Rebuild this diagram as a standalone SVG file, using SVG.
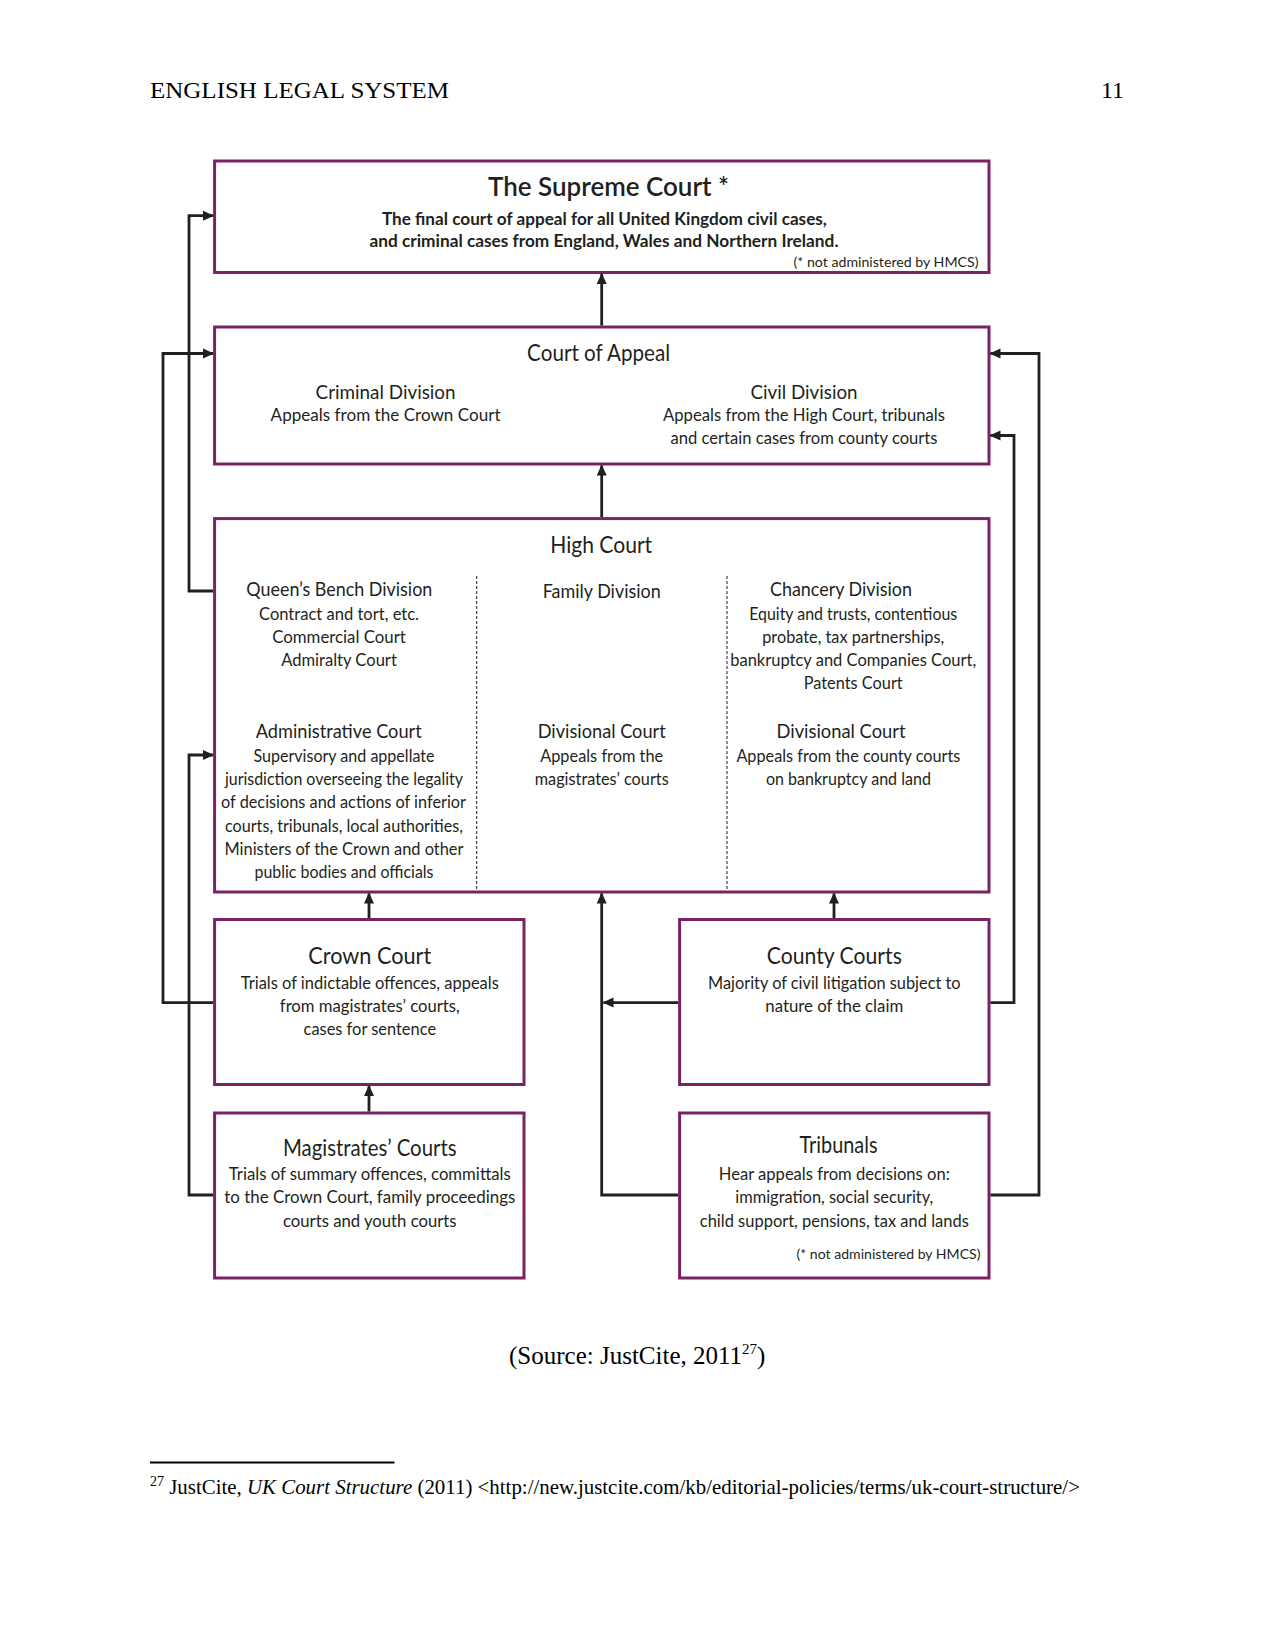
<svg xmlns="http://www.w3.org/2000/svg" width="1275" height="1650" viewBox="0 0 1275 1650">
<defs>
<marker id="ah" markerWidth="11" markerHeight="11" refX="10" refY="5.5" orient="auto" markerUnits="userSpaceOnUse">
<path d="M0,0.5 L11,5.5 L0,10.5 Z" fill="#231f20"/>
</marker>
<style>
.box{fill:#fff;stroke:#7b2264;stroke-width:3}
.div{stroke:#5e4556;stroke-width:1.3;stroke-dasharray:3 2;fill:none}
.con{fill:none;stroke:#231f20;stroke-width:2.8;marker-end:url(#ah)}
.t{font-family:Lato,"Open Sans",sans-serif;fill:#231f20;text-anchor:middle}
.h{font-size:22.5px}
.m{font-size:19px}
.s{font-size:17px}
.b{font-weight:bold;font-size:16.5px}
.n{font-size:13px;text-anchor:end}
.serif{font-family:"Liberation Serif",serif;fill:#000}
</style>
</defs>
<rect width="1275" height="1650" fill="#fff"/>
<text class="serif" x="150" y="98" font-size="24" textLength="299" lengthAdjust="spacingAndGlyphs">ENGLISH LEGAL SYSTEM</text>
<text class="serif" x="1124" y="98" font-size="24" text-anchor="end">11</text>

<g id="supreme-court">
<rect class="box" x="214.6" y="161" width="774.4" height="111.5"/>
<text class="t" x="608.5" y="195.5" font-size="26" font-weight="600" textLength="241" lengthAdjust="spacingAndGlyphs">The Supreme Court *</text>
<text class="t b" x="604.4" y="225" textLength="445" lengthAdjust="spacingAndGlyphs">The final court of appeal for all United Kingdom civil cases,</text>
<text class="t b" x="604" y="247" textLength="469" lengthAdjust="spacingAndGlyphs">and criminal cases from England, Wales and Northern Ireland.</text>
<text class="t n" x="978.5" y="267" textLength="185" lengthAdjust="spacingAndGlyphs">(* not administered by HMCS)</text>
</g>

<g id="court-of-appeal">
<rect class="box" x="214.6" y="327" width="774.4" height="137"/>
<text class="t h" x="598.6" y="361" textLength="143" lengthAdjust="spacingAndGlyphs">Court of Appeal</text>
<text class="t m" x="385.6" y="398.5" textLength="140" lengthAdjust="spacingAndGlyphs">Criminal Division</text>
<text class="t s" x="385.6" y="420.5" textLength="230" lengthAdjust="spacingAndGlyphs">Appeals from the Crown Court</text>
<text class="t m" x="804" y="398.5" textLength="107" lengthAdjust="spacingAndGlyphs">Civil Division</text>
<text class="t s" x="804" y="420.5" textLength="282" lengthAdjust="spacingAndGlyphs">Appeals from the High Court, tribunals</text>
<text class="t s" x="804" y="444" textLength="267" lengthAdjust="spacingAndGlyphs">and certain cases from county courts</text>
</g>

<g id="high-court">
<rect class="box" x="214.6" y="518.6" width="774.4" height="373.4"/>
<line class="div" x1="476.6" y1="576" x2="476.6" y2="892"/>
<line class="div" x1="727" y1="576" x2="727" y2="892"/>
<text class="t h" x="601.2" y="553.4" textLength="102" lengthAdjust="spacingAndGlyphs">High Court</text>
<text class="t m" x="339.3" y="595.5" textLength="186" lengthAdjust="spacingAndGlyphs">Queen’s Bench Division</text>
<text class="t s" x="339" y="619.5" textLength="160" lengthAdjust="spacingAndGlyphs">Contract and tort, etc.</text>
<text class="t s" x="339" y="642.7" textLength="133.6" lengthAdjust="spacingAndGlyphs">Commercial Court</text>
<text class="t s" x="339" y="665.9" textLength="115.7" lengthAdjust="spacingAndGlyphs">Admiralty Court</text>
<text class="t m" x="601.7" y="597.5" textLength="118" lengthAdjust="spacingAndGlyphs">Family Division</text>
<text class="t m" x="841" y="595.5" textLength="142" lengthAdjust="spacingAndGlyphs">Chancery Division</text>
<text class="t s" x="853.2" y="619.5" textLength="208" lengthAdjust="spacingAndGlyphs">Equity and trusts, contentious</text>
<text class="t s" x="853.2" y="642.7" textLength="182" lengthAdjust="spacingAndGlyphs">probate, tax partnerships,</text>
<text class="t s" x="853.2" y="665.9" textLength="246" lengthAdjust="spacingAndGlyphs">bankruptcy and Companies Court,</text>
<text class="t s" x="853.2" y="689.1" textLength="99" lengthAdjust="spacingAndGlyphs">Patents Court</text>
<text class="t m" x="338.7" y="737.5" textLength="166" lengthAdjust="spacingAndGlyphs">Administrative Court</text>
<text class="t s" x="344" y="761.6" textLength="181" lengthAdjust="spacingAndGlyphs">Supervisory and appellate</text>
<text class="t s" x="344" y="784.8" textLength="238" lengthAdjust="spacingAndGlyphs">jurisdiction overseeing the legality</text>
<text class="t s" x="343.5" y="808" textLength="245" lengthAdjust="spacingAndGlyphs">of decisions and actions of inferior</text>
<text class="t s" x="344" y="831.6" textLength="238" lengthAdjust="spacingAndGlyphs">courts, tribunals, local authorities,</text>
<text class="t s" x="344" y="855" textLength="239" lengthAdjust="spacingAndGlyphs">Ministers of the Crown and other</text>
<text class="t s" x="344" y="878.4" textLength="179" lengthAdjust="spacingAndGlyphs">public bodies and officials</text>
<text class="t m" x="601.7" y="737.5" textLength="128" lengthAdjust="spacingAndGlyphs">Divisional Court</text>
<text class="t s" x="601.7" y="761.6" textLength="123" lengthAdjust="spacingAndGlyphs">Appeals from the</text>
<text class="t s" x="601.7" y="784.8" textLength="134" lengthAdjust="spacingAndGlyphs">magistrates’ courts</text>
<text class="t m" x="841" y="737.5" textLength="129" lengthAdjust="spacingAndGlyphs">Divisional Court</text>
<text class="t s" x="848.4" y="761.6" textLength="224" lengthAdjust="spacingAndGlyphs">Appeals from the county courts</text>
<text class="t s" x="848.4" y="784.8" textLength="165" lengthAdjust="spacingAndGlyphs">on bankruptcy and land</text>
</g>

<g id="crown-court">
<rect class="box" x="214.6" y="919.5" width="309.4" height="165"/>
<text class="t h" x="369.8" y="963.6" textLength="123" lengthAdjust="spacingAndGlyphs">Crown Court</text>
<text class="t s" x="369.8" y="988.8" textLength="258" lengthAdjust="spacingAndGlyphs">Trials of indictable offences, appeals</text>
<text class="t s" x="369.8" y="1012" textLength="180" lengthAdjust="spacingAndGlyphs">from magistrates’ courts,</text>
<text class="t s" x="369.8" y="1035.2" textLength="132.5" lengthAdjust="spacingAndGlyphs">cases for sentence</text>
</g>

<g id="county-courts">
<rect class="box" x="679.6" y="919.5" width="309.4" height="165"/>
<text class="t h" x="834.3" y="963.6" textLength="135" lengthAdjust="spacingAndGlyphs">County Courts</text>
<text class="t s" x="834.3" y="988.8" textLength="252.5" lengthAdjust="spacingAndGlyphs">Majority of civil litigation subject to</text>
<text class="t s" x="834.3" y="1012" textLength="138" lengthAdjust="spacingAndGlyphs">nature of the claim</text>
</g>

<g id="magistrates-courts">
<rect class="box" x="214.6" y="1113" width="309.4" height="165"/>
<text class="t h" x="369.8" y="1156" textLength="173.6" lengthAdjust="spacingAndGlyphs">Magistrates’ Courts</text>
<text class="t s" x="369.8" y="1180" textLength="282" lengthAdjust="spacingAndGlyphs">Trials of summary offences, committals</text>
<text class="t s" x="369.8" y="1203.4" textLength="291" lengthAdjust="spacingAndGlyphs">to the Crown Court, family proceedings</text>
<text class="t s" x="369.8" y="1226.6" textLength="173.6" lengthAdjust="spacingAndGlyphs">courts and youth courts</text>
</g>

<g id="tribunals">
<rect class="box" x="679.6" y="1113" width="309.4" height="165"/>
<text class="t h" x="838.5" y="1153" textLength="78" lengthAdjust="spacingAndGlyphs">Tribunals</text>
<text class="t s" x="834.3" y="1180" textLength="231" lengthAdjust="spacingAndGlyphs">Hear appeals from decisions on:</text>
<text class="t s" x="834.3" y="1203.4" textLength="198" lengthAdjust="spacingAndGlyphs">immigration, social security,</text>
<text class="t s" x="834.3" y="1226.6" textLength="269" lengthAdjust="spacingAndGlyphs">child support, pensions, tax and lands</text>
<text class="t n" x="980.5" y="1259" textLength="184" lengthAdjust="spacingAndGlyphs">(* not administered by HMCS)</text>
</g>

<g id="connectors">
<path class="con" d="M601.7 325.5 V274"/>
<path class="con" d="M601.7 517 V465.5"/>
<path class="con" d="M369 918 V893.5"/>
<path class="con" d="M834 918 V893.5"/>
<path class="con" d="M369 1111.5 V1086"/>
<path class="con" d="M678 1195 H601.7 V893.5"/>
<path class="con" d="M678 1002.6 H603.5"/>
<path class="con" d="M213 591 H189 V215.7 H213"/>
<path class="con" d="M213 1002.6 H163 V353.5 H213"/>
<path class="con" d="M213 1195 H189 V755 H213"/>
<path class="con" d="M990.5 1002.6 H1014 V435.5 H990.5"/>
<path class="con" d="M990.5 1195 H1039 V353.5 H990.5"/>
</g>

<text class="serif" x="509" y="1364" font-size="25">(Source: JustCite, 2011<tspan font-size="15" dy="-10">27</tspan><tspan dy="10">)</tspan></text>
<line x1="150" y1="1462.5" x2="394.5" y2="1462.5" stroke="#000" stroke-width="2"/>
<text class="serif" x="150" y="1494" font-size="20.9"><tspan font-size="14" dy="-8">27</tspan><tspan dy="8"> JustCite, </tspan><tspan font-style="italic">UK Court Structure</tspan> (2011) &lt;http://new.justcite.com/kb/editorial-policies/terms/uk-court-structure/&gt;</text>
</svg>
